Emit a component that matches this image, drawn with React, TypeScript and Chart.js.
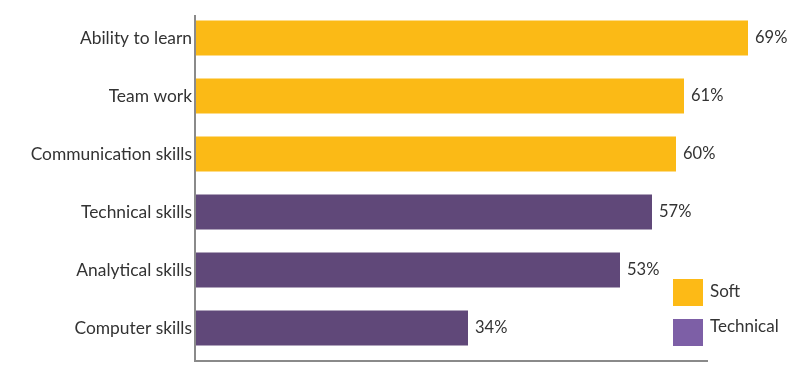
import React, { useEffect, useRef } from "react";
import { Chart, registerables } from "chart.js";

Chart.register(...registerables);

const categories = [
  "Ability to learn",
  "Team work",
  "Communication skills",
  "Technical skills",
  "Analytical skills",
  "Computer skills",
];
const values = [69, 61, 60, 57, 53, 34];
const skillTypes = ["Soft", "Soft", "Soft", "Technical", "Technical", "Technical"];
const legendLabels = ["Soft", "Technical"];

const BAR_COLORS: Record<string, string> = { Soft: "#FBBA16", Technical: "#604879" };
const LEGEND_COLORS: Record<string, string> = { Soft: "#FDBA16", Technical: "#7D5FA6" };
const FONT = "Lato, 'Open Sans', sans-serif";

export default function App() {
  const ref = useRef<HTMLCanvasElement>(null);
  useEffect(() => {
    document.body.style.margin = "0";
    const axesLines = {
      id: "axesLines",
      afterDatasetsDraw(chart: any) {
        const ctx = chart.ctx;
        const left = chart.chartArea.left;
        ctx.save();
        ctx.strokeStyle = "#8a8a8a";
        ctx.lineWidth = 2;
        ctx.beginPath();
        ctx.moveTo(left - 1, 15);
        ctx.lineTo(left - 1, 362);
        ctx.moveTo(left - 2, 361);
        ctx.lineTo(708, 361);
        ctx.stroke();
        ctx.restore();
      },
    };
    const valueLabels = {
      id: "valueLabels",
      afterDatasetsDraw(chart: any) {
        const ctx = chart.ctx;
        const meta = chart.getDatasetMeta(0);
        ctx.save();
        ctx.font = `16.5px ${FONT}`;
        ctx.fillStyle = "#333333";
        ctx.textBaseline = "middle";
        ctx.textAlign = "left";
        meta.data.forEach((bar: any, i: number) => {
          ctx.fillText(values[i] + "%", bar.x + 7, bar.y);
        });
        ctx.restore();
      },
    };
    const customLegend = {
      id: "customLegend",
      afterDraw(chart: any) {
        const ctx = chart.ctx;
        ctx.save();
        ctx.font = `17px ${FONT}`;
        ctx.textBaseline = "middle";
        ctx.textAlign = "left";
        const boxY = [279, 319];
        const textY = [292, 327];
        legendLabels.forEach((lab, i) => {
          ctx.fillStyle = LEGEND_COLORS[lab];
          ctx.fillRect(673, boxY[i], 30, 27);
          ctx.fillStyle = "#333333";
          ctx.fillText(lab, 710, textY[i]);
        });
        ctx.restore();
      },
    };
    const chart = new Chart(ref.current!, {
      type: "bar",
      data: {
        labels: categories,
        datasets: [
          {
            data: values,
            backgroundColor: skillTypes.map((t) => BAR_COLORS[t]),
            barPercentage: 0.6,
            categoryPercentage: 1,
            clip: false as any,
          },
        ],
      },
      options: {
        indexAxis: "y",
        animation: false,
        responsive: false,
        layout: { padding: { top: 9, right: 92, left: 0, bottom: 0 } },
        plugins: { legend: { display: false }, tooltip: { enabled: false } },
        scales: {
          x: {
            min: 0,
            max: 64,
            grid: { display: false, drawTicks: false },
            border: { display: false },
            ticks: { display: false },
            afterFit(scale: any) {
              scale.height = 16;
              scale.paddingLeft = 0;
              scale.paddingRight = 0;
            },
          },
          y: {
            grid: { display: false, drawTicks: false },
            border: { display: false },
            ticks: {
              color: "#333333",
              font: { family: FONT, size: 17.4 },
              padding: 4,
            },
            afterFit(scale: any) {
              scale.width = 196;
              scale.paddingTop = 0;
              scale.paddingBottom = 0;
            },
          },
        },
      },
      plugins: [axesLines, valueLabels, customLegend],
    });
    return () => chart.destroy();
  }, []);
  return <canvas ref={ref} width={800} height={373} style={{ display: "block" }} />;
}
